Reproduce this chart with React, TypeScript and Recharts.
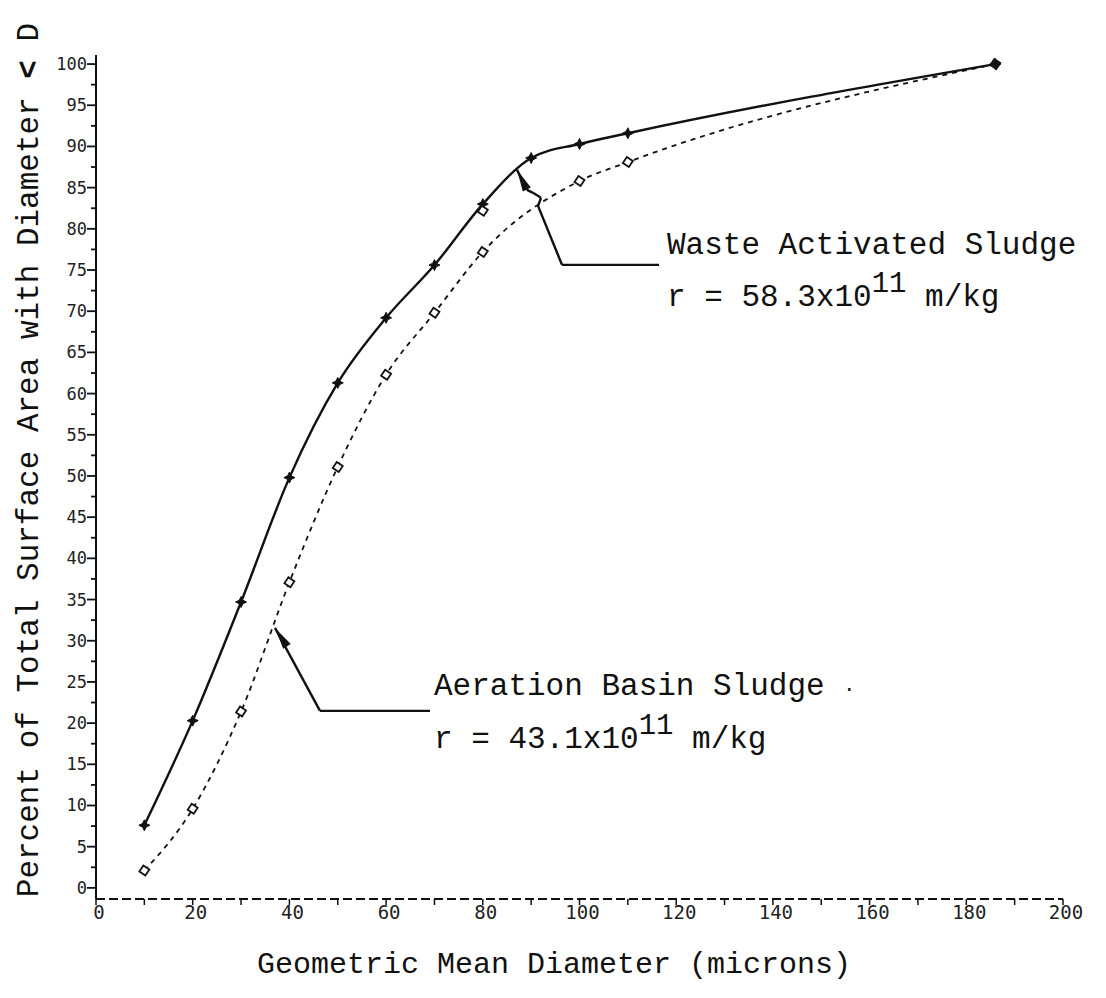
import React from 'react';
import { ComposedChart, Line, Scatter, XAxis, YAxis, ReferenceLine } from 'recharts';

// ---- data ----
const wasteDiameters = [10, 20, 30, 40, 50, 60, 70, 80, 90, 100, 110, 186];
const wasteActivated = [7.6, 20.3, 34.7, 49.8, 61.3, 69.2, 75.6, 83.0, 88.6, 90.3, 91.6, 100];
const aerationDiameters = [10, 20, 30, 40, 50, 60, 70, 80, 100, 110, 186];
const aerationBasin = [2.1, 9.6, 21.4, 37.1, 51.1, 62.3, 69.8, 77.2, 85.8, 88.1, 100];
const strayX = [80];
const strayY = [82.2];
const xTickValues = [0, 10, 20, 30, 40, 50, 60, 70, 80, 90, 100, 110, 120, 130, 140, 150, 160, 170, 180, 190, 200];
const yTickValues = [0, 2.5, 5, 7.5, 10, 12.5, 15, 17.5, 20, 22.5, 25, 27.5, 30, 32.5, 35, 37.5, 40, 42.5, 45, 47.5, 50, 52.5, 55, 57.5, 60, 62.5, 65, 67.5, 70, 72.5, 75, 77.5, 80, 82.5, 85, 87.5, 90, 92.5, 95, 97.5, 100];

// annotation leader paths (data coordinates)
const wasteLeaderX = [87.07, 89.14, 90.38, 92.04, 91.42, 96.38, 116.45];
const wasteLeaderY = [87.16, 84.73, 84.37, 83.76, 82.79, 75.63, 75.63];
const aerationLeaderX = [37.02, 46.33, 69.08];
const aerationLeaderY = [31.56, 21.49, 21.49];

const wasteData = wasteDiameters.map((x, i) => ({ x, y: wasteActivated[i] }));
const aerationData = aerationDiameters.map((x, i) => ({ x, y: aerationBasin[i] }));
const strayData = strayX.map((x, i) => ({ x, y: strayY[i] }));
const arrowTips = [
  { x: wasteLeaderX[0], y: wasteLeaderY[0], dx: 10, dy: 20 },
  { x: aerationLeaderX[0], y: aerationLeaderY[0], dx: 13, dy: 20 },
];

const INK = '#111';
const MONO = '"Liberation Mono", "DejaVu Sans Mono", monospace';
const TICKFONT = '"DejaVu Sans Mono", monospace';

const StarDot = (props: any) => {
  const { cx, cy } = props;
  if (cx == null || cy == null) return null;
  const r = 5.5, q = 1.8;
  const d = `M${cx - r},${cy} L${cx - q},${cy - q} L${cx},${cy - r} L${cx + q},${cy - q} L${cx + r},${cy} L${cx + q},${cy + q} L${cx},${cy + r} L${cx - q},${cy + q} Z`;
  return <path d={d} fill={INK} stroke={INK} strokeWidth={1} />;
};

const HollowDot = (props: any) => {
  const { cx, cy } = props;
  if (cx == null || cy == null) return null;
  const r = 5;
  const d = `M${cx - r},${cy + 1} L${cx - 1},${cy - r} L${cx + r},${cy - 1} L${cx + 1},${cy + r} Z`;
  return <path d={d} fill="#fff" stroke={INK} strokeWidth={1.8} />;
};

const ArrowHead = (props: any) => {
  const { cx, cy, payload } = props;
  if (cx == null || cy == null) return null;
  const len = Math.hypot(payload.dx, payload.dy);
  const ux = payload.dx / len, uy = payload.dy / len;
  const L = 22, W = 4.5;
  const bx = cx + ux * L, by = cy + uy * L;
  const px = -uy * W, py = ux * W;
  return <polygon points={`${cx},${cy} ${bx + px},${by + py} ${bx - px},${by - py}`} fill={INK} />;
};

const XTick = (props: any) => {
  const { x, y, payload } = props;
  const v = payload.value;
  const labelled = v % 20 === 0;
  return (
    <g>
      <line x1={x} y1={y} x2={x} y2={y + 6} stroke={INK} strokeWidth={1.5} />
      {labelled && (
        <text x={x + 3} y={y + 20} textAnchor="middle" fontFamily={TICKFONT} fontSize={19} fill="#222">
          {v}
        </text>
      )}
    </g>
  );
};

const YTick = (props: any) => {
  const { x, y, payload } = props;
  const v = payload.value;
  const major = v % 5 === 0;
  return (
    <g>
      <line x1={x - (major ? 9 : 5)} y1={y} x2={x} y2={y} stroke={INK} strokeWidth={1.8} />
      {major && (
        <text x={x - 9} y={y + 6} textAnchor="end" fontFamily={TICKFONT} fontSize={17} fill="#222">
          {v}
        </text>
      )}
    </g>
  );
};

const segs = (xs: number[], ys: number[]) =>
  xs.slice(0, -1).map((x, i) => [
    { x, y: ys[i] },
    { x: xs[i + 1], y: ys[i + 1] },
  ]);

export default function App() {
  const textStyle: React.CSSProperties = {
    position: 'absolute',
    fontFamily: MONO,
    fontSize: 31,
    lineHeight: '32px',
    color: INK,
    whiteSpace: 'nowrap',
  };
  const sup: React.CSSProperties = { position: 'relative', top: -14, fontSize: 29 };
  return (
    <div style={{ position: 'absolute', left: 0, top: 0, width: 1106, height: 998, background: '#fff' }}>
      <ComposedChart width={1106} height={998} margin={{ top: 55, right: 43, bottom: 59, left: 36 }}>
        <XAxis
          type="number"
          dataKey="x"
          domain={[0, 200]}
          ticks={xTickValues}
          interval={0}
          tick={<XTick />}
          tickLine={false}
          tickSize={0}
          tickMargin={0}
          height={40}
          axisLine={{ stroke: INK, strokeWidth: 2, strokeDasharray: '9 4' }}
          allowDataOverflow
        />
        <YAxis
          type="number"
          dataKey="y"
          domain={[-1.35, 101.1]}
          ticks={yTickValues}
          interval={0}
          tick={<YTick />}
          tickLine={false}
          tickSize={0}
          tickMargin={0}
          width={60}
          axisLine={{ stroke: INK, strokeWidth: 2 }}
          allowDataOverflow
        />
        <Line
          data={aerationData}
          dataKey="y"
          type="monotone"
          stroke={INK}
          strokeWidth={1.8}
          strokeDasharray="5 5"
          dot={<HollowDot />}
          activeDot={false}
          isAnimationActive={false}
        />
        <Line
          data={wasteData}
          dataKey="y"
          type="monotone"
          stroke={INK}
          strokeWidth={2.4}
          dot={<StarDot />}
          activeDot={false}
          isAnimationActive={false}
        />
        <Scatter data={strayData} dataKey="y" shape={<HollowDot />} isAnimationActive={false} />
        {segs(wasteLeaderX, wasteLeaderY).map((s, i) => (
          <ReferenceLine key={'w' + i} segment={s} stroke={INK} strokeWidth={2.4} ifOverflow="visible" />
        ))}
        {segs(aerationLeaderX, aerationLeaderY).map((s, i) => (
          <ReferenceLine key={'a' + i} segment={s} stroke={INK} strokeWidth={2.4} ifOverflow="visible" />
        ))}
        <Scatter data={arrowTips} dataKey="y" shape={<ArrowHead />} isAnimationActive={false} />
      </ComposedChart>

      <div style={{ ...textStyle, left: 667, top: 230 }}>Waste Activated Sludge</div>
      <div style={{ ...textStyle, left: 667, top: 282 }}>
        r = 58.3x10<span style={sup}>11</span> m/kg
      </div>
      <div style={{ ...textStyle, left: 434, top: 671 }}>Aeration Basin Sludge <span style={{ fontSize: 20 }}>·</span></div>
      <div style={{ ...textStyle, left: 434, top: 724 }}>
        r = 43.1x10<span style={sup}>11</span> m/kg
      </div>

      <div style={{ ...textStyle, left: 554, top: 949, transform: 'translateX(-50%)', fontSize: 30 }}>
        Geometric Mean Diameter (microns)
      </div>
      <div
        style={{
          ...textStyle,
          left: 30,
          top: 460,
          transform: 'translate(-50%, -50%) rotate(-90deg)',
          fontSize: 31,
        }}
      >
        Percent of Total Surface Area with Diameter <b>&lt;</b> D
      </div>
    </div>
  );
}
